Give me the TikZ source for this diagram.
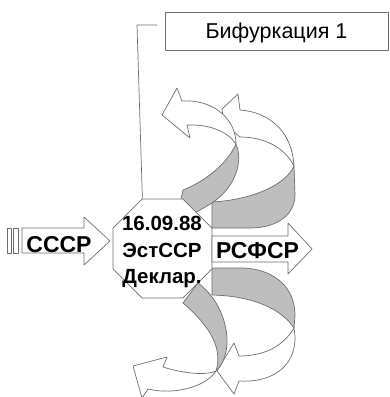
\documentclass[tikz,border=0pt]{standalone}
\usepackage{fontspec}
\setmainfont{Liberation Sans}
\usetikzlibrary{shapes.geometric}
\definecolor{edgegray}{HTML}{6E6E6E}
\definecolor{sidegray}{HTML}{BEBEBE}

\begin{document}
\begin{tikzpicture}[x=1pt,y=-1pt,
  outl/.style={draw=edgegray,line width=0.7pt,line join=round},
  topface/.style={outl,fill=white},
  sideface/.style={outl,fill=sidegray},
  bigtxt/.style={font=\fontsize{23}{26}\selectfont\bfseries,inner sep=0pt,anchor=base},
  octa/.style={regular polygon,regular polygon sides=8,minimum size=107pt,inner sep=0pt,outl,fill=white},
  decltxt/.style={align=center,inner sep=0pt,font=\fontsize{20.5}{26.5}\selectfont\bfseries},
  labelbox/.style={outl,minimum width=223pt,minimum height=38pt,inner sep=0pt,
    font=\fontsize{21.5}{24}\selectfont,text height=15pt,text depth=1pt}]
\useasboundingbox (0,0) rectangle (390,397);

% upper spiral, back arrow
\draw[topface] (222,109) -- (238,94) -- (240,110)
  .. controls (268,112) and (292,130) .. (294,166)
  .. controls (285,148) and (265,137) .. (240,137)
  -- (224,124) -- cycle;
\draw[sideface] (294,166) -- (295,195) .. controls (295,214) and (278,228) .. (250,228)
  -- (212,228) -- (212,202) .. controls (250,200) and (285,186) .. (294,166) -- cycle;

% upper spiral, front arrow
\draw[topface] (162,115) -- (177,88) -- (182,101)
  .. controls (212,99) and (236,118) .. (236,144)
  .. controls (228,132) and (210,124) .. (187,125)
  -- (190,138) -- cycle;
\draw[sideface] (236,144) .. controls (243,160) and (237,186) .. (212,203)
  -- (195,213) -- (178,212) -- (183,190)
  .. controls (208,180) and (228,162) .. (236,144) -- cycle;

% lower spiral, back arrow
\draw[sideface] (212,268) -- (245,268) .. controls (275,270) and (295,288) .. (295,315)
  -- (294,328) .. controls (282,310) and (255,296) .. (212,295) -- cycle;
\draw[topface] (294,328) -- (295,336) .. controls (296,368) and (270,383) .. (239,381)
  -- (234,394) -- (217,371) -- (234,343) -- (239,356)
  .. controls (262,356) and (282,348) .. (294,328) -- cycle;

% lower spiral, front arrow
\draw[topface] (216,371) .. controls (205,388) and (172,395) .. (148,389)
  -- (142,398) -- (133,366) -- (167,357) -- (163,367)
  .. controls (182,373) and (205,376) .. (216,371) -- cycle;
\draw[sideface] (216,371) .. controls (236,352) and (228,305) .. (198,283)
  -- (183,303) .. controls (205,322) and (224,345) .. (216,371) -- cycle;

% declaration
\node[octa] (decl) at (162.5,248.5) {};
\node[decltxt] (decltext) at (162,252) {16.09.88\\ЭстССР\\Деклар.};

% incoming arrow
\draw[outl] (7,228) rectangle (11,253);
\draw[outl] (13,228) rectangle (18,253);
\draw[topface] (22,228) -- (84,228) -- (84,217) -- (110,241) -- (84,265) -- (84,253) -- (22,253) -- cycle;
\node[bigtxt] (ussr) at (59,252) {СССР};

% outgoing arrow
\draw[topface] (212,236) -- (288,236) -- (288,223) -- (312,249) -- (288,274) -- (288,262) -- (212,262) -- cycle;
\node[bigtxt] (rsfsr) at (257.5,258) {РСФСР};

% label and callout
\node[labelbox] (bif) at (276.5,31) {Бифуркация 1};
\coordinate (hook) at (157,25);
\coordinate (bend) at (137,25);
\draw[outl] (hook) -- (bend) -- (decl.112.5);

\end{tikzpicture}
\end{document}
